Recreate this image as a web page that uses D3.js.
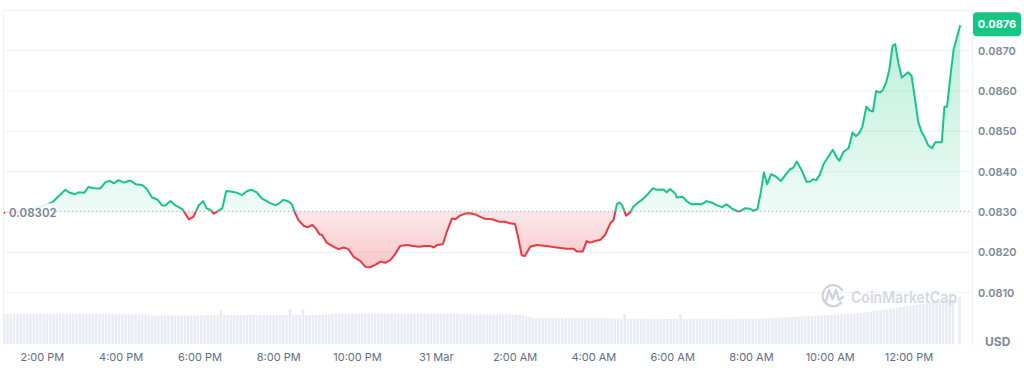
<!DOCTYPE html>
<html><head><meta charset="utf-8">
<script src="https://cdn.jsdelivr.net/npm/d3@7"></script>
<style>body{margin:0;background:#fff;}svg{display:block;font-family:Inter,"Noto Sans",sans-serif;}</style>
</head><body><svg id="c" width="1024" height="370"></svg>
<script>
// minutes after 30 Mar 13:00
const times = [
1,19,42,60,75,95,100,110,115,124,
130,138,148,156,163,169,176,184,194,202,
212,219,227,235,242,247,255,262,273,278,
283,290,298,305,310,316,321,326,334,340,
349,356,364,372,379,387,394,407,415,420,
427,435,440,445,450,458,464,471,476,482,
486,493,503,511,519,526,534,544,552,559,
567,575,582,590,597,605,615,625,633,643,
651,656,661,670,676,684,689,696,704,712,
719,727,734,745,755,765,772,780,785,790,
795,803,813,828,838,849,859,869,874,883,
889,894,902,910,917,925,930,935,939,943,
949,955,960,968,973,981,990,996,1006,1011,
1016,1024,1026,1035,1042,1049,1057,1064,1072,1080,
1087,1095,1102,1110,1118,1123,1130,1138,1143,1149,
1154,1159,1164,1170,1177,1185,1191,1199,1204,1209,
1217,1224,1229,1234,1239,1244,1250,1257,1264,1270,
1274,1280,1288,1294,1299,1304,1309,1315,1321,1325,
1330,1336,1340,1345,1350,1355,1359,1364,1369,1374,
1379,1384,1389,1394,1399,1404,1409,1415,1420,1430,
1434,1438,1443,1448,1458];
const prices = [
0.08298,0.08300,0.08305,0.08315,0.08324,0.08355,0.08349,0.08344,0.08349,0.08348,
0.08362,0.08359,0.08358,0.08374,0.08377,0.08371,0.08379,0.08373,0.08378,0.08369,
0.08367,0.08357,0.08336,0.08331,0.08317,0.08316,0.08327,0.08317,0.08307,0.08295,
0.08282,0.08288,0.08316,0.08327,0.08309,0.08305,0.08296,0.08301,0.08309,0.08352,
0.08350,0.08348,0.08342,0.08352,0.08355,0.08348,0.08334,0.08322,0.08317,0.08321,
0.08330,0.08326,0.08319,0.08297,0.08280,0.08266,0.08262,0.08268,0.08260,0.08245,
0.08243,0.08224,0.08214,0.08208,0.08212,0.08208,0.08189,0.08179,0.08164,0.08163,
0.08169,0.08177,0.08174,0.08181,0.08195,0.08216,0.08218,0.08216,0.08214,0.08216,
0.08216,0.08212,0.08218,0.08220,0.08251,0.08284,0.08282,0.08291,0.08296,0.08297,
0.08294,0.08288,0.08283,0.08282,0.08276,0.08276,0.08272,0.08270,0.08235,0.08193,
0.08191,0.08214,0.08218,0.08216,0.08213,0.08211,0.08209,0.08209,0.08202,0.08202,
0.08228,0.08224,0.08228,0.08231,0.08243,0.08272,0.08280,0.08319,0.08324,0.08317,
0.08291,0.08298,0.08313,0.08324,0.08330,0.08342,0.08359,0.08355,0.08356,0.08349,
0.08357,0.08346,0.08336,0.08338,0.08326,0.08319,0.08320,0.08319,0.08327,0.08323,
0.08317,0.08312,0.08319,0.08309,0.08302,0.08302,0.08309,0.08308,0.08303,0.08307,
0.08346,0.08398,0.08369,0.08394,0.08388,0.08377,0.08390,0.08406,0.08410,0.08425,
0.08402,0.08375,0.08375,0.08381,0.08379,0.08392,0.08419,0.08437,0.08454,0.08435,
0.08427,0.08449,0.08458,0.08497,0.08488,0.08495,0.08511,0.08561,0.08551,0.08549,
0.08600,0.08596,0.08602,0.08620,0.08652,0.08712,0.08716,0.08668,0.08633,0.08640,
0.08646,0.08637,0.08582,0.08524,0.08499,0.08485,0.08466,0.08458,0.08473,0.08473,
0.08561,0.08561,0.08635,0.08703,0.08763];
const baselinePrice = 0.08302;
const baselineLabel = "0.08302";
const lastPriceLabel = "0.0876";
const yTickValues = [0.0810,0.0820,0.0830,0.0840,0.0850,0.0860,0.0870];
const yTickLabels = ["0.0810","0.0820","0.0830","0.0840","0.0850","0.0860","0.0870"];
const xTickMinutes = [60,180,300,420,540,660,780,900,1020,1140,1260,1380];
const xTickLabels = ["2:00 PM","4:00 PM","6:00 PM","8:00 PM","10:00 PM","31 Mar","2:00 AM","4:00 AM","6:00 AM","8:00 AM","10:00 AM","12:00 PM"];
const currencyLabel = "USD";
const volumeStepMinutes = 5;
const volumes = [
30,30,30,29.8,30,30,30.2,30,30,29.9,30,30,30,30.1,30,30,29.8,30,30,30,
30,30.2,30,30,29.9,30,30,30,30,30,30.1,30,30,29.9,30,30,
29.6,29.5,29.5,29.4,29.5,29.5,29.6,29.5,29.4,
28.6,28.5,28.5,28.4,28.5,28.5,28.6,28.5,28.5,28.4,28.5,28.5,28.6,28.5,28.5,28.7,28.5,28.8,28.6,28.9,29.0,
34,
29,29,29.1,29,29,28.9,29,29,29,29.1,29,29,29,28.9,29,29,29.1,29,29,29,
35,29,29,29,35,
29,29,29.1,29,29,29,29.2,29.6,
30.3,30.5,30.5,30.6,30.5,30.5,30.4,30.5,30.5,30.6,30.5,30.5,30.5,30.4,30.5,30.5,30.6,30.5,30.5,30.5,
30.4,30.5,30.5,30.5,30.6,30.5,30.5,30.4,30.5,30.5,30.5,30.6,30.5,30.5,30.4,30.5,30.5,30.5,30.3,30.2,
30.0,29.8,29.7,
29.5,29.5,29.6,29.5,29.5,29.4,29.5,29.5,29.5,29.6,29.5,29.5,29.4,29.5,29.3,28.8,28.0,27.0,
26.2,26,26,26.1,26,26,25.9,26,26,26,26.1,26,26,26,25.9,26,26,26,26.1,26,26,25.9,26,26,25.8,25.6,25.5,25.4,
30,
25.2,25,25,25.1,25,25,24.9,25,25,25,25.1,25,25,25,24.9,25,
30,
25,25,25.1,25,25,24.9,25,25,25,25.1,25,25,25,24.9,25,25,25,25.1,25,25,25,25,25.2,25.4,
25.6,25.8,26,26.1,26.3,26.5,26.6,26.8,27,27.1,27.3,27.5,27.6,27.8,28,28.1,28.3,28.5,28.6,28.8,
29,29.2,29.4,29.6,29.8,30,30.2,30.4,30.6,30.8,
31,31.5,32,32.5,33,33.4,33.8,34.3,34.8,35.3,35.8,36.3,36.8,37.3,37.8,38.3,38.8,39.3,39.8,
40.3,40.8,41.3,41.8,42.3,42.8,43.3,43.7,44.1,44.5,
0,47];

const GREEN="#16c784", RED="#ea3943";
const pL=3,pR=972,pT=10,pB=345;
const x=d3.scaleLinear().domain([0,1476]).range([pL,pR]);
const y=d3.scaleLinear().domain([0.081,0.087]).range([292.7,50.6]);
const yv=d3.scaleLinear().domain([0,50]).range([344,294]);
const data=times.map((t,i)=>({t,p:prices[i]}));
const svg=d3.select('#c');
const defs=svg.append('defs');
const yb=y(baselinePrice);

const gG=defs.append('linearGradient').attr('id','gG').attr('gradientUnits','userSpaceOnUse')
 .attr('x1',0).attr('x2',0).attr('y1',y(d3.max(prices))).attr('y2',yb);
gG.append('stop').attr('offset',0).attr('stop-color',GREEN).attr('stop-opacity',0.3);
gG.append('stop').attr('offset',1).attr('stop-color',GREEN).attr('stop-opacity',0.07);
const gR=defs.append('linearGradient').attr('id','gR').attr('gradientUnits','userSpaceOnUse')
 .attr('x1',0).attr('x2',0).attr('y1',yb).attr('y2',y(d3.min(prices)));
gR.append('stop').attr('offset',0).attr('stop-color',RED).attr('stop-opacity',0.12);
gR.append('stop').attr('offset',1).attr('stop-color',RED).attr('stop-opacity',0.28);
defs.append('clipPath').attr('id','cAbove').append('rect').attr('x',0).attr('y',0).attr('width',1024).attr('height',yb);
defs.append('clipPath').attr('id','cBelow').append('rect').attr('x',0).attr('y',yb).attr('width',1024).attr('height',370-yb);

// grid
svg.append('g').selectAll('line').data(yTickValues).join('line')
 .attr('x1',pL).attr('x2',pR).attr('y1',d=>y(d)).attr('y2',d=>y(d))
 .attr('stroke','#eff2f5').attr('stroke-width',1);
svg.append('line').attr('x1',pL).attr('x2',pR).attr('y1',pT+0.5).attr('y2',pT+0.5).attr('stroke','#eff2f5');
svg.append('line').attr('x1',pR+0.5).attr('x2',pR+0.5).attr('y1',pT).attr('y2',pB).attr('stroke','#eff2f5');
svg.append('line').attr('x1',pL+0.5).attr('x2',pL+0.5).attr('y1',pT).attr('y2',pB).attr('stroke','#eff2f5');

// volume
const bw=x(volumeStepMinutes)-x(0);
svg.append('g').selectAll('rect').data(volumes).join('rect')
 .attr('x',(d,i)=>x(i*volumeStepMinutes)).attr('width',bw-0.7)
 .attr('y',d=>yv(d)).attr('height',d=>yv(0)-yv(d))
 .attr('fill','#e9edf3');

// watermark
const wm=svg.append('g').attr('opacity',0.9);
wm.append('path').attr('d','M 841.5 302 A 10.5 10.5 0 1 1 842.5 291').attr('fill','none').attr('stroke','#c9ced8').attr('stroke-width',2.2);
wm.append('path').attr('d','M 826 301 L 829 290 L 832.5 299 L 836 290 L 839 300 L 843 297').attr('fill','none').attr('stroke','#c9ced8').attr('stroke-width',2.2).attr('stroke-linejoin','round').attr('stroke-linecap','round');
wm.append('text').attr('x',851).attr('y',297).attr('dominant-baseline','central')
 .attr('font-size',16).attr('font-weight',600).attr('fill','#d0d5de').attr('textLength',106).attr('lengthAdjust','spacingAndGlyphs').text('CoinMarketCap');

// areas
const area=d3.area().x(d=>x(d.t)).y0(yb).y1(d=>y(d.p));
svg.append('path').datum(data).attr('d',area).attr('fill','url(#gG)').attr('clip-path','url(#cAbove)');
svg.append('path').datum(data).attr('d',area).attr('fill','url(#gR)').attr('clip-path','url(#cBelow)');

// baseline dotted
svg.append('line').attr('x1',56).attr('x2',pR).attr('y1',yb).attr('y2',yb)
 .attr('stroke','#a6b0c3').attr('stroke-dasharray','1,3').attr('stroke-width',1);

// lines
const line=d3.line().x(d=>x(d.t)).y(d=>y(d.p));
svg.append('path').datum(data).attr('d',line).attr('fill','none').attr('stroke',GREEN).attr('stroke-width',2).attr('stroke-linejoin','round').attr('clip-path','url(#cAbove)');
svg.append('path').datum(data).attr('d',line).attr('fill','none').attr('stroke',RED).attr('stroke-width',2).attr('stroke-linejoin','round').attr('clip-path','url(#cBelow)');

// baseline label
svg.append('rect').attr('x',5).attr('y',yb-8).attr('width',51).attr('height',17).attr('fill','#fff').attr('opacity',0.85);
svg.append('text').attr('x',9).attr('y',yb+1.5).attr('dominant-baseline','central').attr('font-size',11.5).attr('font-weight',600).attr('fill','#7a8499').text(baselineLabel);

// y axis labels
svg.append('g').selectAll('text').data(yTickValues).join('text')
 .attr('x',978).attr('y',d=>y(d)).attr('dominant-baseline','central')
 .attr('font-size',11).attr('font-weight',600).attr('fill','#808a9d')
 .text((d,i)=>yTickLabels[i]);
svg.append('text').attr('x',985).attr('y',341).attr('dominant-baseline','central').attr('font-size',12).attr('font-weight',700).attr('fill','#808a9d').text(currencyLabel);

// price tag
const lastY=y(prices[prices.length-1]);
svg.append('rect').attr('x',973).attr('y',lastY-13).attr('width',48).attr('height',24).attr('rx',4).attr('fill',GREEN);
svg.append('text').attr('x',997).attr('y',lastY-1).attr('text-anchor','middle').attr('dominant-baseline','central')
 .attr('font-size',11).attr('font-weight',700).attr('fill','#fff').text(lastPriceLabel);

// x axis labels
svg.append('g').selectAll('text').data(xTickMinutes).join('text')
 .attr('x',d=>x(d)).attr('y',357).attr('text-anchor','middle').attr('dominant-baseline','central')
 .attr('font-size',11).attr('fill','#616e85').text((d,i)=>xTickLabels[i]);
</script></body></html>
